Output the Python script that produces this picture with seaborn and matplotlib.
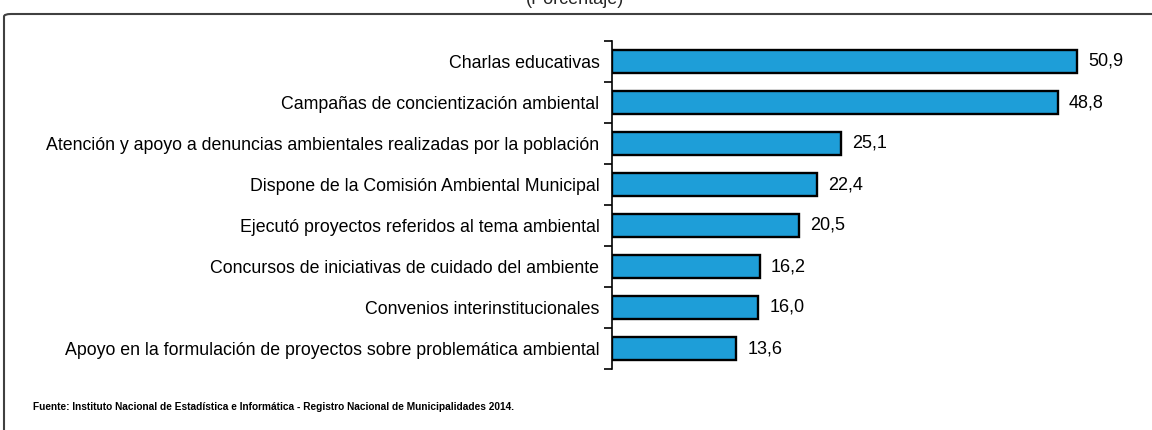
import matplotlib
matplotlib.use("Agg")
import matplotlib.pyplot as plt
import seaborn as sns
import pandas as pd
from matplotlib.patches import FancyBboxPatch

categories = [
    "Charlas educativas",
    "Campañas de concientización ambiental",
    "Atención y apoyo a denuncias ambientales realizadas por la población",
    "Dispone de la Comisión Ambiental Municipal",
    "Ejecutó proyectos referidos al tema ambiental",
    "Concursos de iniciativas de cuidado del ambiente",
    "Convenios interinstitucionales",
    "Apoyo en la formulación de proyectos sobre problemática ambiental",
]
values = [50.9, 48.8, 25.1, 22.4, 20.5, 16.2, 16.0, 13.6]
title = "(Porcentaje)"
source = "Fuente: Instituto Nacional de Estadística e Informática - Registro Nacional de Municipalidades 2014."

sns.set_theme(style="white")
plt.rcParams['font.family'] = ["Liberation Sans", 'DejaVu Sans']

df = pd.DataFrame({"cat": categories, "val": values})

fig = plt.figure(figsize=(11.52, 4.30), dpi=100)
ax = fig.add_axes([612/1152, 1 - 369/430, (1142-612)/1152, 328/430])
sns.barplot(data=df, x="val", y="cat", orient="h", color="#1E9ED8",
            edgecolor="black", linewidth=1.7, width=0.57, saturation=1, ax=ax)

ax.set_xlim(0, 58)
ax.set_ylim(len(categories) - 0.5, -0.5)
ax.set_xlabel("")
ax.set_ylabel("")
ax.set_xticks([])
for s in ["top", "right", "bottom"]:
    ax.spines[s].set_visible(False)
ax.spines["left"].set_color("black")
ax.spines["left"].set_linewidth(1.2)

ax.set_yticks(range(len(categories)))
ax.set_yticklabels(categories, fontsize=12.8, color="black")
ax.tick_params(axis="y", which="major", length=0, pad=9)
ax.set_yticks([i - 0.5 for i in range(len(categories) + 1)], minor=True)
ax.tick_params(axis="y", which="minor", length=6, width=1.2, color="black", left=True)

for i, v in enumerate(values):
    ax.text(v + 1.2, i, f"{v:.1f}".replace(".", ","), va="center", ha="left",
            fontsize=13, color="black")

fig.text(575/1152, 1 - 8/430, title, ha="center", va="bottom", fontsize=13)
fig.text(33/1152, 1 - 407/430, source, ha="left", va="center", fontsize=7.3,
         fontweight="bold", color="black")

box = FancyBboxPatch((4/1152, -0.2), 1.3, (1 - 14/430) + 0.2,
                     boxstyle="round,pad=0,rounding_size=0.006",
                     transform=fig.transFigure, fill=False, edgecolor="#404040",
                     linewidth=1.5)
fig.patches.append(box)

fig.savefig("out.png", dpi=100)
